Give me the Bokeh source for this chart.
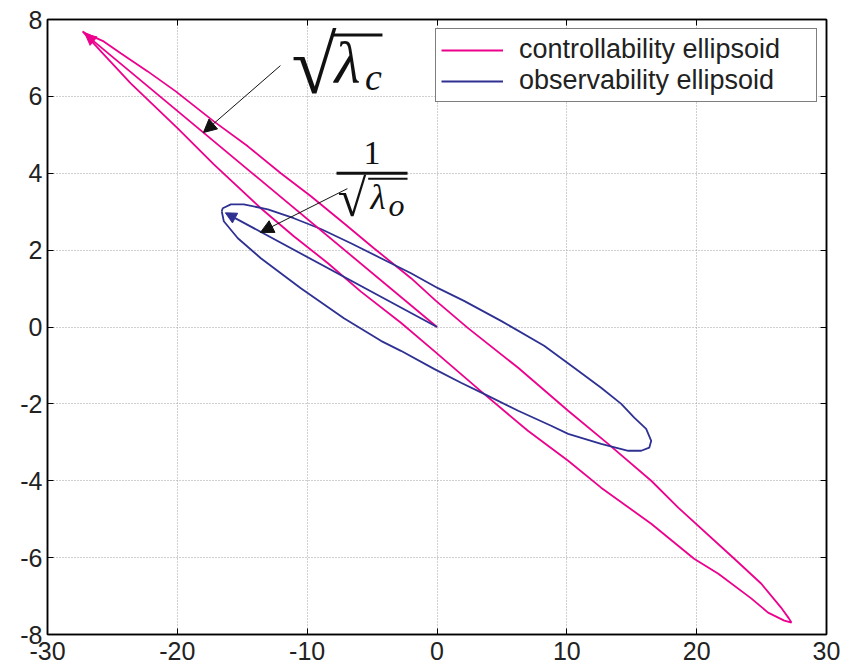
from bokeh.plotting import figure
from bokeh.models import (Range1d, LinearAxis, FixedTicker, Arrow, NormalHead,
                          Label, Legend, LegendItem, CustomJSTickFormatter)
from bokeh.embed import file_html
from bokeh.resources import INLINE

# ---------------- data ----------------
x_ticks = [-30, -20, -10, 0, 10, 20, 30]
y_ticks = [-8, -6, -4, -2, 0, 2, 4, 6, 8]

# controllability ellipsoid outline (closed curve)
ctrl_x = [-27.3, -27.06, -25.67, -24.36, -22.28, -20.12, -17.19, -14.57, -12.03,
          -9.71, -7.17, -4.86, -2.0, -0.08, 2.39, 6.25, 10.1, 13.18, 16.5, 18.58,
          22.9, 24.98, 26.5, 27.1, 27.3,
          26.75, 25.5, 24.2, 21.67, 19.8, 16.5, 12.64, 10.1, 7.0, 3.62, -0.23,
          -2.78, -5.86, -8.40, -11.03, -13.57, -17.19, -19.97, -23.59,
          -25.67, -27.3]
ctrl_y = [7.69, 7.64, 7.43, 7.12, 6.65, 6.13, 5.35, 4.70, 4.0,
          3.40, 2.70, 2.05, 1.27, 0.68, -0.03, -1.06, -2.18, -3.04, -4.0, -4.70,
          -6.03, -6.68, -7.30, -7.58, -7.69,
          -7.64, -7.43, -7.06, -6.42, -6.03, -5.12, -4.18, -3.48, -2.70, -1.74, -0.62,
          0.11, 0.92, 1.66, 2.36, 3.09, 4.23, 5.17, 6.34,
          7.09, 7.69]
# major semi-axis of the controllability ellipsoid (origin -> tip)
ctrl_axis_x = [0.0, -27.1]
ctrl_axis_y = [0.0, 7.62]

# observability ellipsoid outline (closed curve)
obs_x = [-16.58, -16.5, -15.88, -14.88, -13.03, -11.03, -8.94, -6.63, -4.32, -2.0,
         0.08, 2.08, 4.93, 8.25, 10.56, 12.64, 14.19, 15.19, 16.11, 16.5, 16.35,
         15.73, 14.73, 12.64, 10.1, 8.79, 6.25, 3.62, 1.85, -0.23, -2.78, -4.32,
         -7.17, -10.49, -13.57, -15.34, -16.42, -16.58]
obs_y = [3.01, 3.09, 3.19, 3.19, 3.06, 2.83, 2.55, 2.18, 1.79, 1.40,
         1.01, 0.68, 0.16, -0.49, -1.06, -1.58, -2.0, -2.36, -2.65, -2.96, -3.14,
         -3.22, -3.22, -3.04, -2.78, -2.57, -2.18, -1.74, -1.45, -1.09, -0.62, -0.36,
         0.23, 1.01, 1.79, 2.31, 2.75, 3.01]
obs_axis_x = [0.0, -16.3]
obs_axis_y = [0.0, 2.97]

series_names = ["controllability ellipsoid", "observability ellipsoid"]

# ---------------- styling ----------------
PINK = "#EC008C"
BLUE = "#2E3192"
TICK_FONT = "Liberation Sans"
INK = "#111111"

p = figure(width=858, height=665, output_backend="svg", toolbar_location=None,
           x_range=Range1d(-30, 30), y_range=Range1d(-8, 8),
           min_border_left=47, min_border_right=32, min_border_top=19,
           min_border_bottom=31, x_axis_location=None, y_axis_location=None)
p.background_fill_color = "white"
p.border_fill_color = "white"
p.outline_line_color = "black"
p.outline_line_width = 1.5

label_fmt = CustomJSTickFormatter(code="return tick.toString();")
blank_fmt = CustomJSTickFormatter(code="return '';")


def make_axis(show_labels, ticks):
    ax = LinearAxis(ticker=FixedTicker(ticks=ticks))
    ax.axis_line_color = "black"
    ax.axis_line_width = 1.5
    ax.major_tick_in = 6
    ax.major_tick_out = 0
    ax.minor_tick_in = 0
    ax.minor_tick_out = 0
    ax.major_tick_line_color = "black"
    ax.major_label_text_font = TICK_FONT
    ax.major_label_text_color = "#222222"
    ax.major_label_text_font_size = "25px"
    if show_labels:
        ax.formatter = label_fmt
        ax.major_label_standoff = 5
    else:
        ax.formatter = blank_fmt
        ax.major_label_standoff = 0
    return ax


xb = make_axis(True, x_ticks); xb.major_label_standoff = 7
yl = make_axis(True, y_ticks)
xt = make_axis(False, x_ticks)
yr = make_axis(False, y_ticks)
p.add_layout(xb, "below")
p.add_layout(yl, "left")
p.add_layout(xt, "above")
p.add_layout(yr, "right")

p.xgrid.ticker = FixedTicker(ticks=x_ticks)
p.ygrid.ticker = FixedTicker(ticks=y_ticks)
for g in (p.xgrid, p.ygrid):
    g.grid_line_color = "#a0a0a0"
    g.grid_line_dash = "1 2"
    g.grid_line_width = 1

# ---------------- curves ----------------
r_ctrl = p.line(ctrl_x, ctrl_y, line_color=PINK, line_width=1.8)
p.add_layout(Arrow(end=NormalHead(size=11, fill_color=PINK, line_color=PINK),
                   x_start=ctrl_axis_x[0], y_start=ctrl_axis_y[0],
                   x_end=ctrl_axis_x[1], y_end=ctrl_axis_y[1],
                   line_color=PINK, line_width=1.8))

r_obs = p.line(obs_x, obs_y, line_color=BLUE, line_width=1.8)
p.add_layout(Arrow(end=NormalHead(size=11, fill_color=BLUE, line_color=BLUE),
                   x_start=obs_axis_x[0], y_start=obs_axis_y[0],
                   x_end=obs_axis_x[1], y_end=obs_axis_y[1],
                   line_color=BLUE, line_width=1.8))

# ---------------- annotations ----------------
p.add_layout(Arrow(end=NormalHead(size=13, fill_color=INK, line_color=INK),
                   x_start=-12.06, y_start=6.80, x_end=-17.99, y_end=5.06,
                   line_color=INK, line_width=1))
p.add_layout(Arrow(end=NormalHead(size=13, fill_color=INK, line_color=INK),
                   x_start=-6.9, y_start=3.60, x_end=-13.6, y_end=2.46,
                   line_color=INK, line_width=1))

SERIF = "Liberation Serif"


def tex(x, y, s, size, italic=False, align="left"):
    p.add_layout(Label(x=x, y=y, text=s, text_font=SERIF,
                       text_font_style="italic" if italic else "normal",
                       text_font_size=f"{size}px", text_align=align,
                       text_baseline="alphabetic", text_color=INK))


# sqrt(lambda_c)
tex(-11.2, 6.80, "√", 82)
p.segment(x0=[-8.1], y0=[7.6], x1=[-4.2], y1=[7.6], line_color=INK, line_width=3)
tex(-7.9, 6.86, "λ", 60, italic=True)
tex(-5.55, 6.50, "c", 38, italic=True)
# 1 / sqrt(lambda_o)
tex(-5.0, 4.52, "1", 34, align="center")
p.segment(x0=[-7.74], y0=[4.0], x1=[-2.27], y1=[4.0], line_color=INK, line_width=3)
tex(-7.65, 3.34, "√", 52)
p.segment(x0=[-5.3], y0=[3.86], x1=[-2.27], y1=[3.86], line_color=INK, line_width=2)
tex(-5.12, 3.36, "λ", 35, italic=True)
tex(-3.74, 3.17, "o", 32, italic=True)

# ---------------- legend ----------------
legend = Legend(items=[LegendItem(label=series_names[0], renderers=[r_ctrl]),
                       LegendItem(label=series_names[1], renderers=[r_obs])],
                location="top_right", margin=9, padding=5, spacing=0,
                glyph_width=62, label_standoff=16, label_width=292,
                label_text_font=TICK_FONT, label_text_font_size="27px",
                label_text_color="#222222",
                border_line_color="black", border_line_width=1.5,
                background_fill_color="white", background_fill_alpha=1)
p.add_layout(legend, "center")

open("out.html", "w").write(file_html(p, INLINE))
